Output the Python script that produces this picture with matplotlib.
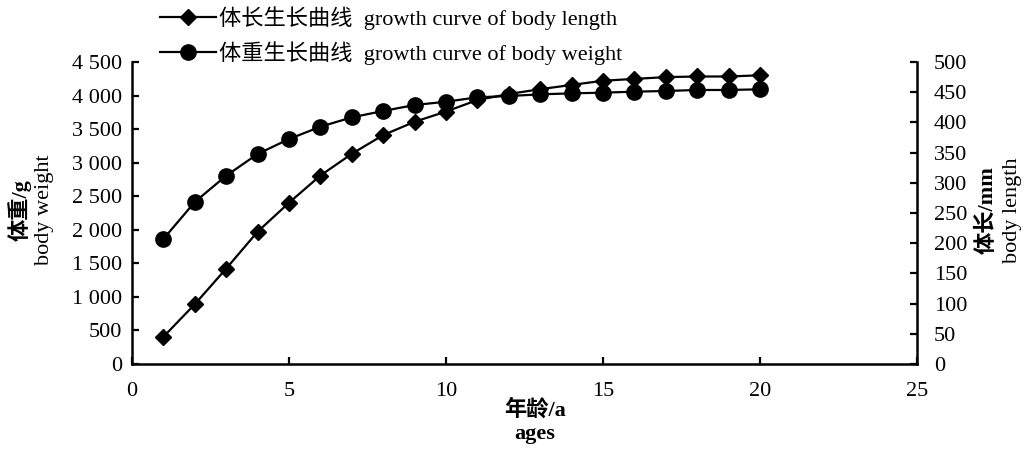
import numpy as np
import matplotlib
matplotlib.use('Agg')
from matplotlib import pyplot as plt
from matplotlib.ticker import FuncFormatter, MultipleLocator

plt.rcParams['font.family'] = ['Liberation Serif', 'Noto Sans CJK SC']

# ages (a)
ages = [1, 2, 3, 4, 5, 6, 7, 8, 9, 10, 11, 12, 13, 14, 15, 16, 17, 18, 19, 20]
# body length, mm (right axis)
body_length = [45, 99, 158, 219, 267, 312, 348, 379, 401, 418,
               437, 447, 455, 462, 469, 472, 475, 476, 476, 478]
# body weight, g (left axis)
body_weight = [1863, 2414, 2806, 3129, 3352, 3536, 3675, 3770, 3859, 3908,
               3974, 3993, 4018, 4033, 4043, 4058, 4068, 4083, 4083, 4093]

label_len = '体长生长曲线  growth curve of body length'
label_wt = '体重生长曲线  growth curve of body weight'

fig = plt.figure(figsize=(10.36, 4.54), dpi=100)
ax = fig.add_axes([132/1036, 90/454, 785/1036, 302/454])
ax2 = ax.twinx()

l1, = ax2.plot(ages, body_length, color='black', lw=1.6, marker='D', ms=8, label=label_len)
l2, = ax.plot(ages, body_weight, color='black', lw=1.6, marker='o', ms=11, label=label_wt)

ax.set_xlim(0, 25)
ax.set_ylim(0, 4500)
ax2.set_ylim(0, 500)
ax.xaxis.set_major_locator(MultipleLocator(5))
ax.yaxis.set_major_locator(MultipleLocator(500))
ax2.yaxis.set_major_locator(MultipleLocator(50))

def thousands(v, pos):
    return '{:,}'.format(int(v)).replace(',', ' ')
ax.yaxis.set_major_formatter(FuncFormatter(thousands))

for a in (ax, ax2):
    a.spines['top'].set_visible(False)
    for s in a.spines.values():
        s.set_linewidth(1.8)
ax.spines['right'].set_visible(False)
ax2.spines['left'].set_visible(False)
ax2.spines['bottom'].set_visible(False)

ax.tick_params(axis='y', direction='in', length=5, width=1.6, labelsize=16, pad=7)
ax.tick_params(axis='x', direction='in', length=5, width=1.6, labelsize=16, pad=13)
ax2.tick_params(axis='y', direction='in', length=5, width=1.6, labelsize=16, pad=12)

# axis titles
yc = 1 - 210/454
fig.text(20/1036, yc, '体重/g', rotation=90, ha='center', va='center',
         fontsize=16, fontweight='bold')
fig.text(45/1036, yc, 'body weight', rotation=90, ha='center', va='center', fontsize=16)
fig.text(987/1036, yc, '体长/mm', rotation=90, ha='center', va='center',
         fontsize=16, fontweight='bold')
fig.text(1012/1036, yc, 'body length', rotation=90, ha='center', va='center', fontsize=16)
fig.text(535/1036, 1 - 410/454, '年龄/a', ha='center', va='center', fontsize=16, fontweight='bold')
fig.text(535/1036, 1 - 434/454, 'ages', ha='center', va='center', fontsize=16, fontweight='bold')

fig.legend(handles=[l1, l2], loc='upper left', bbox_to_anchor=(160/1036, 1 - 6/454),
           frameon=False, fontsize=16, handlelength=2.5, labelspacing=0.5,
           handletextpad=0.15, borderpad=0, borderaxespad=0)

fig.savefig('out.png', dpi=100)
